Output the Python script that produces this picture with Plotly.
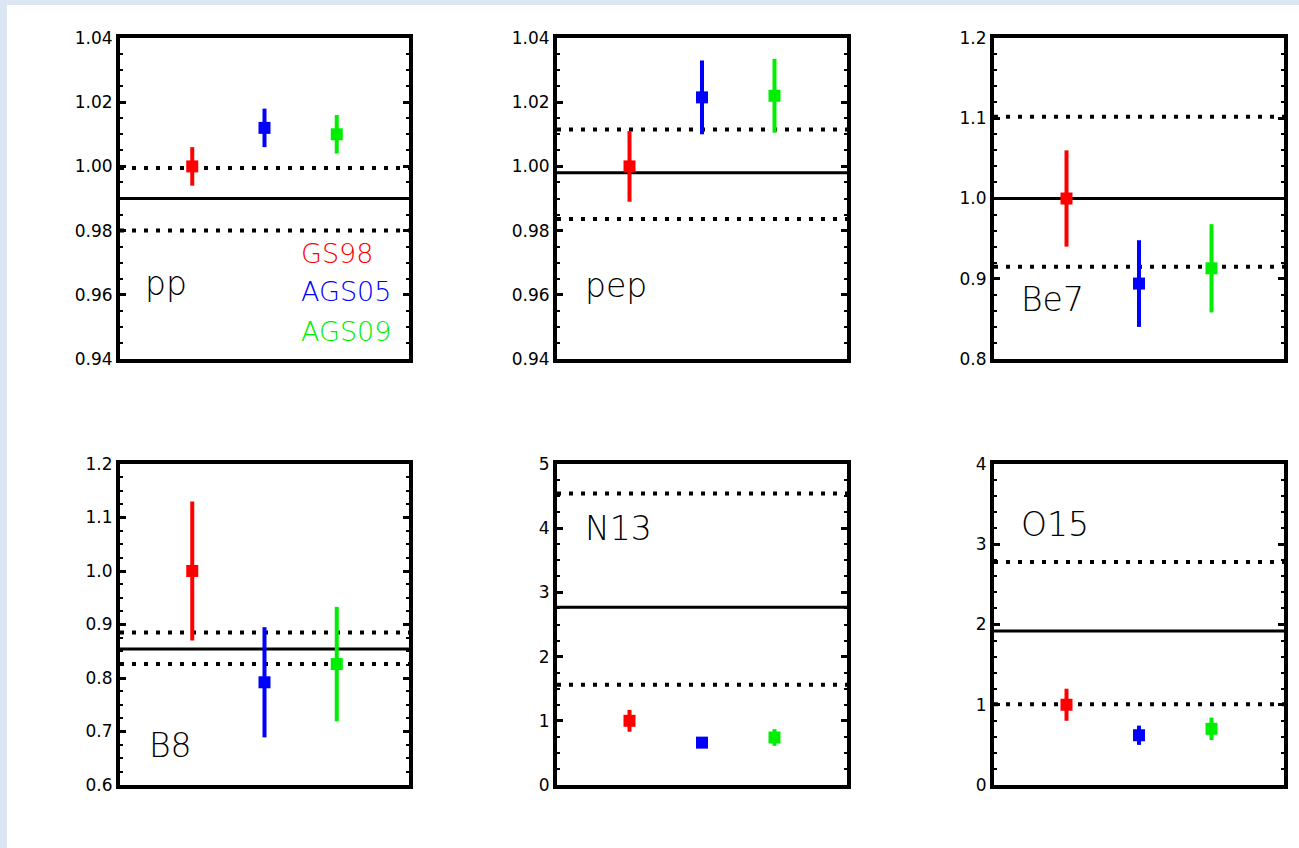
import plotly.graph_objects as go

# Solar neutrino flux ratios: model predictions vs. measured value
panels = ["pp", "pep", "Be7", "B8", "N13", "O15"]
models = ["GS98", "AGS05", "AGS09"]
model_colors = ["#ff0000", "#0000ff", "#00ee00"]
model_x = [1, 2, 3]

gs98_val = [1.000, 1.000, 1.000, 1.000, 1.00, 1.00]
gs98_err = [0.006, 0.011, 0.060, 0.130, 0.17, 0.20]
ags05_val = [1.012, 1.0215, 0.894, 0.792, 0.66, 0.62]
ags05_err = [0.006, 0.0115, 0.054, 0.103, 0.08, 0.12]
ags09_val = [1.010, 1.022, 0.913, 0.826, 0.74, 0.70]
ags09_err = [0.006, 0.0115, 0.055, 0.107, 0.13, 0.14]

meas_val = [0.990, 0.998, 1.000, 0.854, 2.77, 1.92]
meas_hi = [0.9995, 1.0115, 1.102, 0.885, 4.54, 2.78]
meas_lo = [0.9800, 0.9836, 0.915, 0.826, 1.56, 1.005]

y_ranges = [(0.94, 1.04), (0.94, 1.04), (0.8, 1.2), (0.6, 1.2), (0, 5), (0, 4)]
y_dticks = [0.02, 0.02, 0.1, 0.1, 1, 1]
y_minor = [0.005, 0.005, 0.02, 0.025, 0.25, 0.2]
y_formats = [".2f", ".2f", ".1f", ".1f", "d", "d"]

W, H = 1299, 848
col_px = [(120, 409), (557, 847), (994, 1284)]
row_px = [(38, 359), (464, 785)]

label_pos = [(0.080, 0.235), (0.090, 0.230), (0.086, 0.185),
             (0.093, 0.123), (0.090, 0.798), (0.086, 0.811)]

model_vals = [gs98_val, ags05_val, ags09_val]
model_errs = [gs98_err, ags05_err, ags09_err]

fig = go.Figure()
label_font = dict(family="DejaVu Sans", size=33, color="black", weight=200)

for i, name in enumerate(panels):
    r, c = divmod(i, 3)
    n = i + 1
    xa = "xaxis" if n == 1 else f"xaxis{n}"
    ya = "yaxis" if n == 1 else f"yaxis{n}"
    xr = "x" if n == 1 else f"x{n}"
    yr = "y" if n == 1 else f"y{n}"
    x0, x1 = col_px[c]
    y0, y1 = row_px[r]
    fig.update_layout({
        xa: dict(domain=[x0 / W, x1 / W], range=[0, 4], anchor=yr, automargin=False,
                 showticklabels=False, ticks="", showgrid=False, zeroline=False,
                 showline=True, linewidth=4, linecolor="black", mirror=True),
        ya: dict(domain=[1 - y1 / H, 1 - y0 / H], range=list(y_ranges[i]), anchor=xr,
                 automargin=False,
                 dtick=y_dticks[i], tick0=0, tickformat=y_formats[i],
                 ticks="inside", ticklen=6, tickwidth=3, tickcolor="black",
                 minor=dict(dtick=y_minor[i], tick0=0, ticks="inside", ticklen=3,
                            tickwidth=2, tickcolor="black", showgrid=False),
                 showgrid=False, zeroline=False,
                 showline=True, linewidth=4, linecolor="black", mirror="ticks",
                 tickfont=dict(family="DejaVu Sans", size=17, color="black")),
    })

    # measured flux (solid) with its 1-sigma band (dotted)
    fig.add_trace(go.Scatter(x=[0, 4], y=[meas_val[i]] * 2, mode="lines",
                             line=dict(color="black", width=3),
                             xaxis=xr, yaxis=yr, showlegend=False, hoverinfo="skip"))
    for lv in (meas_hi[i], meas_lo[i]):
        fig.add_trace(go.Scatter(x=[0, 4], y=[lv] * 2, mode="lines",
                                 line=dict(color="black", width=4, dash="4px,8px"),
                                 xaxis=xr, yaxis=yr, showlegend=False, hoverinfo="skip"))

    # model predictions
    for k in range(3):
        fig.add_trace(go.Scatter(
            x=[model_x[k]], y=[model_vals[k][i]], mode="markers",
            marker=dict(symbol="square", size=12, color=model_colors[k],
                        line=dict(width=0)),
            error_y=dict(type="data", array=[model_errs[k][i]], color=model_colors[k],
                         thickness=4, width=0),
            xaxis=xr, yaxis=yr, showlegend=False, name=models[k]))

    fig.add_annotation(text=name, xref=f"{xr} domain", yref=f"{yr} domain",
                       x=label_pos[i][0], y=label_pos[i][1], xanchor="left",
                       yanchor="middle", showarrow=False, font=label_font)

# model key in the first panel
key_y = [0.330, 0.209, 0.087]
for k in range(3):
    fig.add_annotation(text=models[k], xref="x domain", yref="y domain",
                       x=0.620, y=key_y[k], xanchor="left", yanchor="middle",
                       showarrow=False,
                       font=dict(family="DejaVu Sans", size=27, color=model_colors[k], weight=200))

# light-blue border strips along the top and left edges of the page
border = "#dce6f2"
fig.add_shape(type="rect", xref="paper", yref="paper",
              x0=-0.01, x1=1.01, y0=1 - 5 / H, y1=1.01,
              fillcolor=border, line=dict(width=0), layer="below")
fig.add_shape(type="rect", xref="paper", yref="paper",
              x0=-0.01, x1=7 / W, y0=-0.01, y1=1.01,
              fillcolor=border, line=dict(width=0), layer="below")

fig.update_layout(width=W, height=H, margin=dict(l=0, r=0, t=0, b=0, pad=0),
                  paper_bgcolor="white", plot_bgcolor="rgba(0,0,0,0)")

fig.write_html("out.html")
